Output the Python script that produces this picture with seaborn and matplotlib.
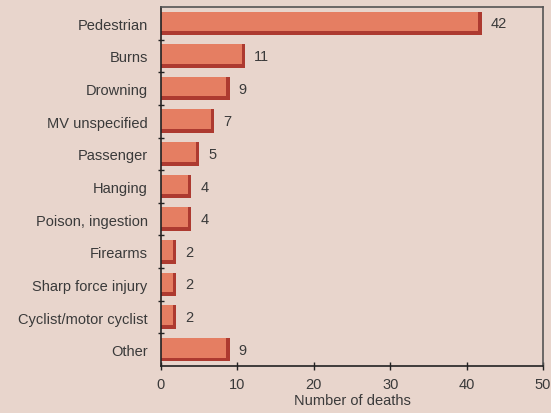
"""Deaths by cause, horizontal bar chart."""

import matplotlib
matplotlib.use("Agg")
import matplotlib.pyplot as plt
import pandas as pd
import seaborn as sns

causes = [
    "Pedestrian",
    "Burns",
    "Drowning",
    "MV unspecified",
    "Passenger",
    "Hanging",
    "Poison, ingestion",
    "Firearms",
    "Sharp force injury",
    "Cyclist/motor cyclist",
    "Other",
]
deaths = [42, 11, 9, 7, 5, 4, 4, 2, 2, 2, 9]
x_ticks = [0, 10, 20, 30, 40, 50]

BG = "#e8d5cc"
FACE = "#e57e62"
SHADOW = "#ad3a30"
TEXT = "#3a3a3a"
FS = 10.5

sns.set_theme(style="white")
plt.rcParams["font.family"] = ["Liberation Sans", "DejaVu Sans"]

df = pd.DataFrame({"cause": causes, "deaths": deaths})

fig = plt.figure(figsize=(5.51, 4.14), dpi=100, facecolor=BG)
ax = fig.add_axes([0.292, 0.1135, 0.6935, 0.8672])
ax.set_facecolor(BG)

# dark "shadow" bars first, then lighter face bars shrunk up/left
sns.barplot(data=df, x="deaths", y="cause", color=SHADOW, saturation=1,
            width=0.72, orient="h", linewidth=0, ax=ax)
n = len(ax.patches)
sns.barplot(data=df, x="deaths", y="cause", color=FACE, saturation=1,
            width=0.72, orient="h", linewidth=0, ax=ax)
for p in ax.patches[n:]:
    p.set_width(max(p.get_width() - 0.45, 0))
    p.set_height(p.get_height() - 0.12)

for i, v in enumerate(deaths):
    ax.text(v + 1.2, i, str(v), va="center", ha="left", fontsize=FS, color=TEXT)

ax.set_xlim(0, 50)
ax.set_ylim(len(causes) - 0.5, -0.5)
ax.set_xticks(x_ticks)
ax.set_yticks([i + 0.5 for i in range(len(causes) - 1)], minor=False)
ax.set_yticklabels([])
ax.set_yticks(range(len(causes)), minor=True)
ax.set_yticklabels(causes, minor=True)
ax.tick_params(axis="y", which="minor", left=True, length=0, pad=9.5,
               labelsize=FS, labelcolor=TEXT)
ax.tick_params(axis="y", which="major", left=True, direction="inout", length=5,
               width=1, color="#222222")
ax.tick_params(axis="x", bottom=True, direction="inout", length=6, width=1,
               color="#222222", labelsize=FS, labelcolor=TEXT, pad=5)
ax.set_xlabel("Number of deaths", fontsize=FS, color=TEXT, labelpad=1)
ax.set_ylabel("")

for side in ["left", "bottom"]:
    ax.spines[side].set_color("#222222")
    ax.spines[side].set_linewidth(1.2)
for side in ["top", "right"]:
    ax.spines[side].set_color("#555555")
    ax.spines[side].set_linewidth(1.2)

fig.savefig("out.png", dpi=100, facecolor=BG)
